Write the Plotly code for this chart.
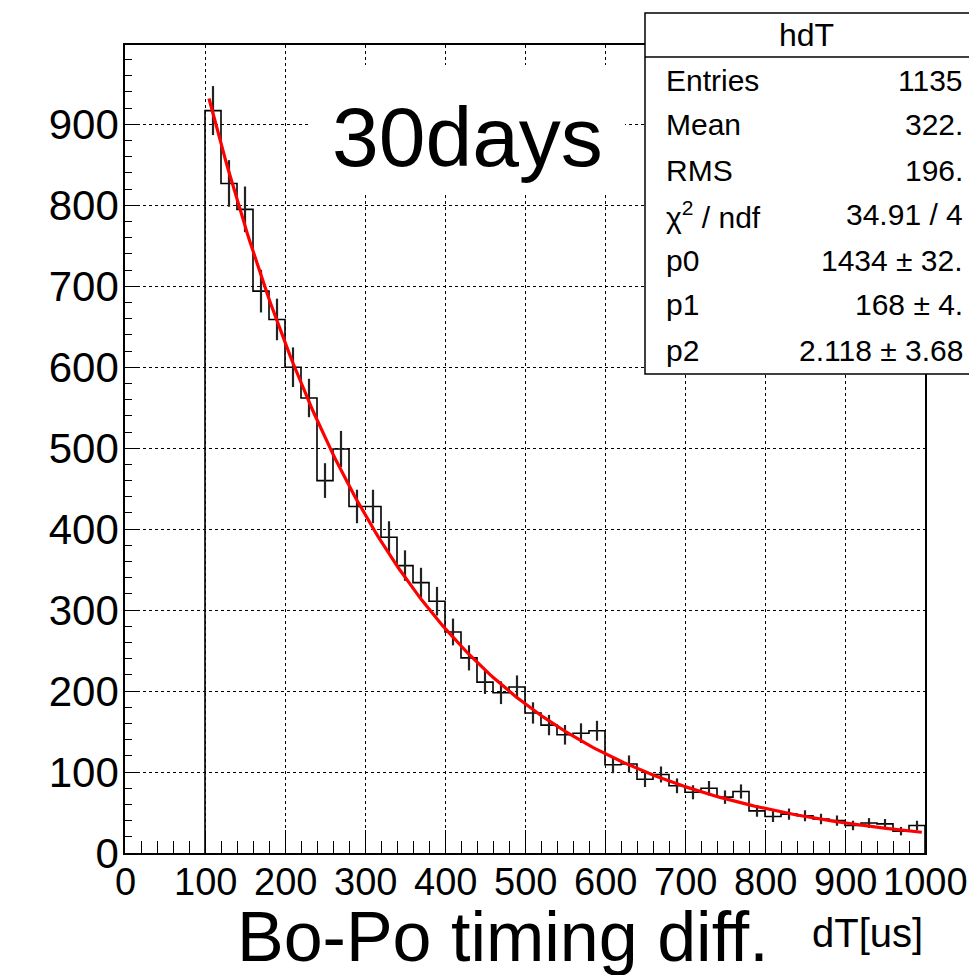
import numpy as np
import plotly.graph_objects as go

# ---------------- data ----------------
bin_width = 20
bin_starts = list(range(100, 1000, 20))
counts = [917, 827, 795, 694, 659, 600, 562, 460, 499, 428,
          428, 390, 355, 334, 311, 273, 241, 211, 198, 205,
          173, 158, 146, 148, 151, 109, 110, 91, 97, 83,
          75, 80, 69, 76, 52, 45, 48, 46, 42, 40,
          34, 37, 36, 27, 34]

# fit parameters shown in the stats box (exponential decay, p1 = half-life)
p0, p1, p2 = 1434.0, 168.0, 2.118
fit_range = (105, 996)

x_ticks = [0, 100, 200, 300, 400, 500, 600, 700, 800, 900, 1000]
y_ticks = [0, 100, 200, 300, 400, 500, 600, 700, 800, 900]

stat_title = "hdT"
stat_labels = ["Entries", "Mean", "RMS", "χ<sup>2</sup> / ndf", "p0", "p1", "p2"]
stat_values = ["1135", "322.", "196.", "34.91 / 4", "1434 ± 32.", "168 ± 4.", "2.118 ± 3.68"]

# ---------------- geometry helpers (pixel -> paper) ----------------
W, H = 969, 975
ML, MR, MT, MB = 125, 44, 45, 122
PW, PH = W - ML - MR, H - MT - MB


def px(xp):
    return (xp - ML) / PW


def py(yp):
    return (H - MB - yp) / PH


FONT = "Liberation Sans, Arial, Helvetica, sans-serif"

fig = go.Figure()

# histogram outline
edges = bin_starts + [bin_starts[-1] + bin_width]
hx = [bin_starts[0]] + edges + [edges[-1]]
hy = [0] + counts + [counts[-1], 0]
fig.add_trace(go.Scatter(x=hx, y=hy, mode="lines", line=dict(color="black", width=1.6, shape="hv"),
                         hoverinfo="skip", showlegend=False))

# error bars
centers = [b + bin_width / 2 for b in bin_starts]
errs = list(np.sqrt(np.array(counts, dtype=float)))
fig.add_trace(go.Scatter(x=centers, y=counts, mode="markers", marker=dict(size=1, color="rgba(0,0,0,0)"),
                         error_y=dict(type="data", array=errs, visible=True, width=0, thickness=2.2,
                                      color="#222222"),
                         hoverinfo="skip", showlegend=False))

# fit function
fx = np.linspace(fit_range[0], fit_range[1], 300)
fy = p0 * np.exp(-np.log(2) * fx / p1) + p2
fig.add_trace(go.Scatter(x=fx, y=fy, mode="lines", line=dict(color="#ff0000", width=3.2),
                         hoverinfo="skip", showlegend=False))

shapes = []
annotations = []

# white pave behind "30days"
shapes.append(dict(type="rect", xref="paper", yref="paper", x0=px(310), x1=px(625), y0=py(193), y1=py(65),
                   fillcolor="white", line=dict(width=0), layer="above"))
annotations.append(dict(xref="paper", yref="paper", x=px(467), y=py(137), text="30days", showarrow=False,
                        font=dict(family=FONT, size=84, color="black"), xanchor="center", yanchor="middle"))

# stats box
shapes.append(dict(type="rect", xref="paper", yref="paper", x0=px(645), x1=px(990), y0=py(374), y1=py(13),
                   fillcolor="white", line=dict(color="black", width=1.5), layer="above"))
shapes.append(dict(type="line", xref="paper", yref="paper", x0=px(645), x1=px(990), y0=py(57), y1=py(57),
                   line=dict(color="black", width=1.5), layer="above"))
annotations.append(dict(xref="paper", yref="paper", x=px(806), y=py(35), text=stat_title, showarrow=False,
                        font=dict(family=FONT, size=32, color="black"), xanchor="center", yanchor="middle"))
row_y = [80, 125, 170, 215, 260, 305, 350]
for lab, val, ry in zip(stat_labels, stat_values, row_y):
    annotations.append(dict(xref="paper", yref="paper", x=px(664), y=py(ry), text=lab, showarrow=False,
                            font=dict(family=FONT, size=30, color="black"), xanchor="left", yanchor="middle"))
    annotations.append(dict(xref="paper", yref="paper", x=px(965), y=py(ry), text=val, showarrow=False,
                            font=dict(family=FONT, size=30, color="black"), xanchor="right", yanchor="middle"))

# x tick labels (drawn as text so the last one stays inside the page)
for i, v in enumerate(x_ticks):
    xc = ML + PW * v / 1000.0
    if i == len(x_ticks) - 1:
        xc = min(xc, W - 43)
    annotations.append(dict(xref="paper", yref="paper", x=px(xc), y=py(882), text=str(v),
                            showarrow=False, font=dict(family=FONT, size=38, color="black"),
                            xanchor="center", yanchor="middle"))

# axis titles
annotations.append(dict(xref="paper", yref="paper", x=px(503), y=py(937), text="Bo-Po timing diff.",
                        showarrow=False, font=dict(family=FONT, size=70, color="black"),
                        xanchor="center", yanchor="middle"))
annotations.append(dict(xref="paper", yref="paper", x=px(925), y=py(933), text="dT[us]",
                        showarrow=False, font=dict(family=FONT, size=40, color="black"),
                        xanchor="right", yanchor="middle"))

fig.update_layout(
    width=W, height=H,
    margin=dict(l=ML, r=MR, t=MT, b=MB, autoexpand=False),
    paper_bgcolor="white", plot_bgcolor="white",
    shapes=shapes, annotations=annotations,
    showlegend=False,
)
fig.update_xaxes(range=[0, 1000], tickvals=x_ticks, showticklabels=False, automargin=False,
                 ticks="inside", ticklen=23, tickwidth=1.3, tickcolor="black",
                 minor=dict(ticks="inside", ticklen=12, dtick=20, tickcolor="black", tickwidth=1.3, showgrid=False),
                 showgrid=True, gridcolor="black", griddash="dot", gridwidth=1.3,
                 showline=True, linecolor="black", linewidth=1.6, mirror=True, zeroline=False)
fig.update_yaxes(range=[0, 998], tickvals=y_ticks, ticktext=[str(v) for v in y_ticks],
                 automargin=False,
                 ticks="inside", ticklen=13, tickwidth=1.3, tickcolor="black",
                 minor=dict(ticks="inside", ticklen=7, dtick=20, tickcolor="black", tickwidth=1.3, showgrid=False),
                 showgrid=True, gridcolor="black", griddash="dot", gridwidth=1.3,
                 showline=True, linecolor="black", linewidth=1.6, mirror=True, zeroline=False,
                 tickfont=dict(family=FONT, size=42, color="black"), ticklabelstandoff=-4)

fig.write_html("out.html", config={"displayModeBar": False},
               post_script="document.body.style.margin='0';document.body.style.overflow='hidden';")
